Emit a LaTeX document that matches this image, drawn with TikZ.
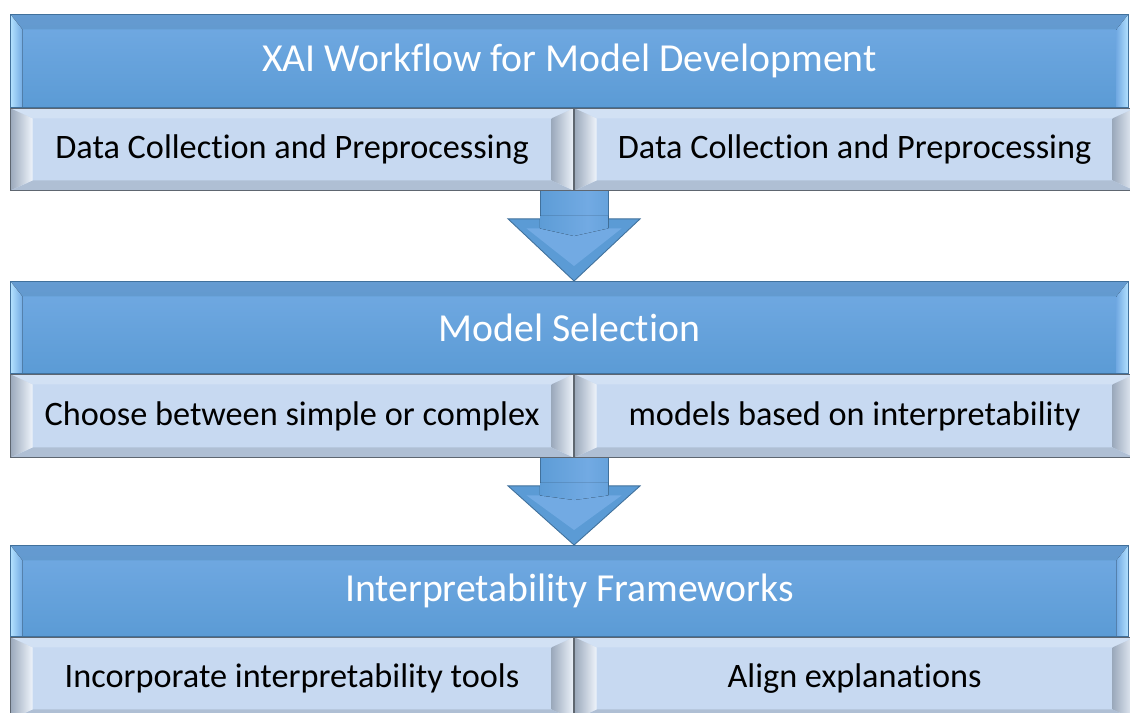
\documentclass[tikz,border=0pt]{standalone}
\usepackage{fontspec}
\setmainfont{Carlito}[Ligatures={NoCommon,NoRare}]
\usetikzlibrary{calc,positioning,backgrounds}

\definecolor{barblue}{HTML}{5B9BD5}
\definecolor{bartop}{HTML}{72AAE3}
\definecolor{barline}{HTML}{41719C}
\definecolor{shaftlight}{HTML}{B4E2FF}
\definecolor{subfill}{HTML}{C7D9F1}
\definecolor{subline}{HTML}{5E6670}

\pgfdeclarehorizontalshading{shaftshade}{100bp}{color(0bp)=(barline); color(8bp)=(shaftlight); color(22bp)=(barblue); color(60bp)=(bartop); color(90bp)=(barblue); color(100bp)=(barline)}

\tikzset{
	headbar/.style={draw=barline, line width=0.5pt, top color=bartop, bottom color=barblue, text=white, font=\fontsize{22.6}{27}\selectfont, minimum width=22.36cm, anchor=north west, inner sep=0pt,
		path picture={
			\coordinate (pnw) at (path picture bounding box.north west);
			\coordinate (pne) at (path picture bounding box.north east);
			\coordinate (psw) at (path picture bounding box.south west);
			\coordinate (pse) at (path picture bounding box.south east);
			\fill[barline, opacity=0.25] (pnw) -- (pne) -- ($(pne)+(-0.24,-0.3)$) -- ($(pnw)+(0.24,-0.3)$) -- cycle;
			\fill[left color=shaftlight, right color=bartop] (pnw) -- ($(pnw)+(0.24,-0.3)$) -- ($(psw)+(0.24,0)$) -- (psw) -- cycle;
			\fill[left color=bartop, right color=shaftlight] (pne) -- ($(pne)+(-0.24,-0.3)$) -- ($(pse)+(-0.24,0)$) -- (pse) -- cycle;
		}},
	subbox/.style={draw=subline, line width=0.6pt, fill=subfill, text=black, font=\fontsize{19.5}{23}\selectfont, anchor=north west, inner sep=0pt,
		path picture={
			\coordinate (pnw) at (path picture bounding box.north west);
			\coordinate (pne) at (path picture bounding box.north east);
			\coordinate (psw) at (path picture bounding box.south west);
			\coordinate (pse) at (path picture bounding box.south east);
			\fill[subfill!80!white] (pnw) -- (pne) -- ($(pne)+(-0.44,-0.2)$) -- ($(pnw)+(0.44,-0.2)$) -- cycle;
			\fill[subfill!88!black] (psw) -- (pse) -- ($(pse)+(-0.44,0.2)$) -- ($(psw)+(0.44,0.2)$) -- cycle;
			\fill[left color=subfill!78!black, right color=subfill!30!white] (pnw) -- ($(pnw)+(0.44,-0.2)$) -- ($(psw)+(0.44,0.2)$) -- (psw) -- cycle;
			\fill[left color=subfill!78!black, right color=subfill!35!white] (pne) -- ($(pne)+(-0.44,-0.2)$) -- ($(pse)+(-0.44,0.2)$) -- (pse) -- cycle;
		}}
}

\newcommand{\flowarrow}[3]{%
	\coordinate (#3a) at ($(#1.south east)+(0,0.1)$);
	\coordinate (#3b) at (#2.north -| #1.south east);
	\fill[shading=shaftshade] ($(#3a)+(-0.68,0)$) rectangle ($(#3a)+(0.68,-1.0)$);
	\draw[barline, line width=0.5pt] ($(#3a)+(-0.68,0)$) -- ($(#3a)+(-0.68,-0.66)$) ($(#3a)+(0.68,0)$) -- ($(#3a)+(0.68,-0.66)$);
	\fill[barblue, draw=barline, line width=0.5pt] ($(#3a)+(-0.68,-0.66)$) -- ($(#3a)+(-1.32,-0.66)$) -- (#3b) -- ($(#3a)+(1.32,-0.66)$) -- ($(#3a)+(0.68,-0.66)$) -- ($(#3a)+(0.68,-1.0)$) -- ($(#3a)+(-0.68,-1.0)$) -- cycle;
	\fill[bartop] ($(#3a)+(-0.95,-0.85)$) -- ($(#3a)+(0.95,-0.85)$) -- ($(#3b)+(0,0.3)$) -- cycle;
	\fill[shading=shaftshade] ($(#3a)+(-0.68,-0.6)$) -- ($(#3a)+(0.68,-0.6)$) -- ($(#3a)+(0.68,-0.85)$) -- ($(#3b)+(0,0.9)$) -- ($(#3a)+(-0.68,-0.85)$) -- cycle;
}

\begin{document}
\begin{tikzpicture}
		
		\useasboundingbox (0,0) rectangle (22.6,-14.26);
		\clip (0,0) rectangle (22.6,-14.26);
		
		\node[headbar, minimum height=1.86cm] (h1) at (0.2,-0.28) {XAI Workflow for Model Development};
		\node[subbox, minimum width=11.26cm, minimum height=1.64cm] (s1l) at (h1.south west) {Data Collection and Preprocessing};
		\node[subbox, minimum width=11.2cm, minimum height=1.64cm] (s1r) at (s1l.north east) {Data Collection and Preprocessing};
		
		\node[headbar, minimum height=1.84cm] (h2) at (0.2,-5.62) {Model Selection};
		\node[subbox, minimum width=11.26cm, minimum height=1.66cm] (s2l) at (h2.south west) {Choose between simple or complex};
		\node[subbox, minimum width=11.2cm, minimum height=1.66cm] (s2r) at (s2l.north east) {models based on interpretability};
		
		\node[headbar, minimum height=1.82cm] (h3) at (0.2,-10.9) {Interpretability Frameworks};
		\node[subbox, minimum width=11.26cm, minimum height=1.64cm] (s3l) at (h3.south west) {Incorporate interpretability tools};
		\node[subbox, minimum width=11.2cm, minimum height=1.64cm] (s3r) at (s3l.north east) {Align explanations};
		
		\begin{pgfonlayer}{background}
			\flowarrow{s1l}{h2}{fa}
			\flowarrow{s2l}{h3}{fb}
		\end{pgfonlayer}
		
\end{tikzpicture}
\end{document}
